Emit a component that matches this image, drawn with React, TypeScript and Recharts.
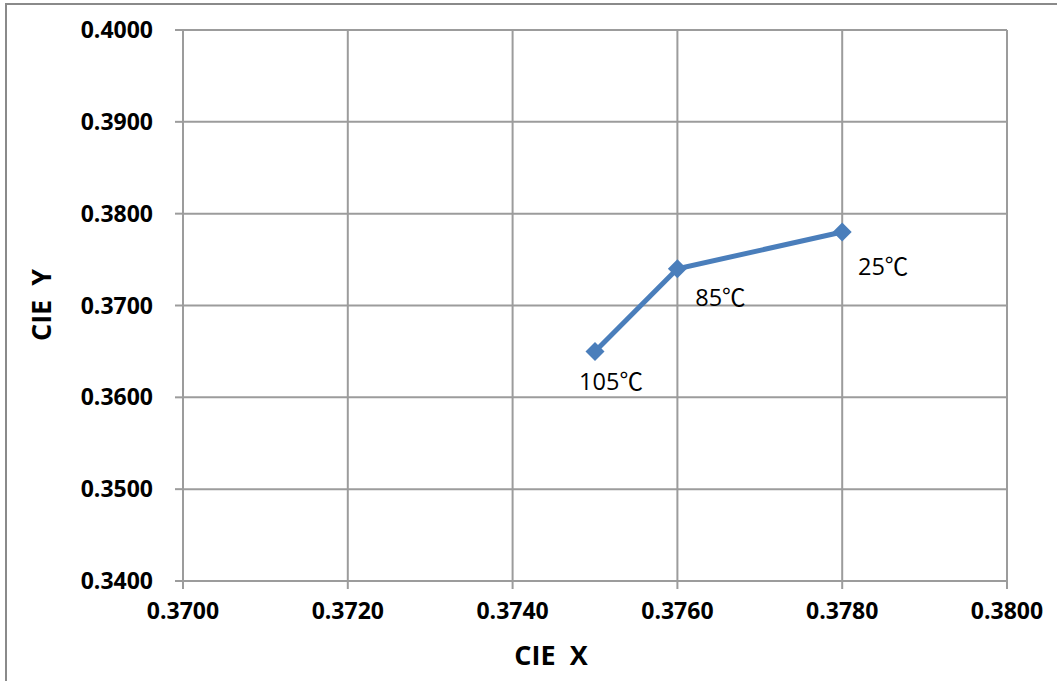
import React from "react"
import { LineChart, Line, XAxis, YAxis, CartesianGrid, LabelList } from "recharts"

// CIE coordinates measured at each temperature
const temps = ["25℃", "85℃", "105℃"]
const cieX = [0.378, 0.376, 0.375]
const cieY = [0.378, 0.374, 0.365]

const xTicks = [0.37, 0.372, 0.374, 0.376, 0.378, 0.38]
const yTicks = [0.34, 0.35, 0.36, 0.37, 0.38, 0.39, 0.4]

const data = temps.map((t, i) => ({ label: t, x: cieX[i], y: cieY[i] }))

const BLUE = "#4a7ebb"
const GRID = "#9c9c9c"
const TICK_FONT = "'Open Sans', 'Noto Sans', sans-serif"
const LABEL_FONT = "'Open Sans', 'Noto Sans CJK SC', sans-serif"

function Diamond(props: any) {
  const { cx, cy } = props
  if (cx == null || cy == null) return null
  const r = 9.5
  return (
    <path
      d={`M${cx},${cy - r} L${cx + r},${cy} L${cx},${cy + r} L${cx - r},${cy} Z`}
      fill={BLUE}
    />
  )
}

// label offsets copied from the way the original places them
const labelOffset: Record<string, [number, number]> = {
  "25℃": [41, 34],
  "85℃": [43, 28],
  "105℃": [16, 30],
}

function PointLabel(props: any) {
  const { x, y, value } = props
  const [dx, dy] = labelOffset[value] || [0, 0]
  return (
    <text
      x={x + dx}
      y={y + dy}
      textAnchor="middle"
      dominantBaseline="central"
      fontFamily={LABEL_FONT}
      fontSize={23.5}
      fill="#000"
    >
      {value}
    </text>
  )
}

export default function App() {
  return (
    <div
      style={{
        position: "absolute",
        left: 0,
        top: 0,
        width: 1057,
        height: 681,
        overflow: "hidden",
        background: "#fff",
      }}
    >
      <div
        style={{
          position: "absolute",
          left: 5,
          top: 3,
          width: 1200,
          height: 800,
          border: "2px solid #8a8a8a",
        }}
      />
      <div style={{ position: "absolute", left: 0, top: 0 }}>
        <LineChart
          width={1057}
          height={681}
          data={data}
          margin={{ top: 30, right: 50, bottom: 0, left: 0 }}
        >
          <CartesianGrid stroke={GRID} strokeWidth={2} />
          <XAxis
            type="number"
            dataKey="x"
            domain={[0.37, 0.38]}
            ticks={xTicks}
            tickFormatter={(v: number) => v.toFixed(4)}
            height={100}
            stroke={GRID}
            strokeWidth={2}
            tickSize={8}
            tickMargin={14}
            tick={{ fill: "#000", fontSize: 23, fontWeight: 700, fontFamily: TICK_FONT }}
            interval={0}
            label={{
              content: () => (
                <text
                  x={551}
                  y={654}
                  textAnchor="middle"
                  dominantBaseline="central"
                  fontFamily={TICK_FONT}
                  fontWeight={700}
                  fontSize={27}
                  fill="#000"
                >
                  CIE{"\u00a0 "}X
                </text>
              ),
            }}
          />
          <YAxis
            type="number"
            dataKey="y"
            domain={[0.34, 0.4]}
            ticks={yTicks}
            tickFormatter={(v: number) => v.toFixed(4)}
            width={183}
            stroke={GRID}
            strokeWidth={2}
            tickSize={8}
            tickMargin={22}
            tick={{ fill: "#000", fontSize: 23, fontWeight: 700, fontFamily: TICK_FONT }}
            interval={0}
            label={{
              content: () => (
                <text
                  x={40}
                  y={305}
                  transform="rotate(-90 40 305)"
                  textAnchor="middle"
                  dominantBaseline="central"
                  fontFamily={TICK_FONT}
                  fontWeight={700}
                  fontSize={27}
                  fill="#000"
                >
                  CIE{"\u00a0 "}Y
                </text>
              ),
            }}
          />
          <Line
            type="linear"
            dataKey="y"
            stroke={BLUE}
            strokeWidth={5}
            dot={<Diamond />}
            activeDot={false}
            isAnimationActive={false}
          >
            <LabelList dataKey="label" content={<PointLabel />} />
          </Line>
        </LineChart>
      </div>
    </div>
  )
}
